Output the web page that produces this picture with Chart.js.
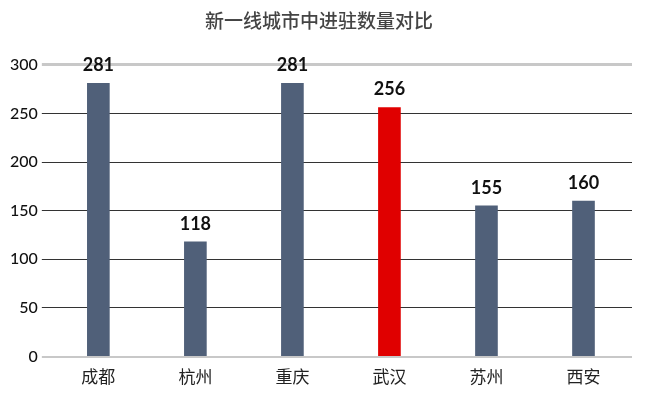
<!DOCTYPE html>
<html>
<head>
<meta charset="utf-8">
<script src="https://cdn.jsdelivr.net/npm/chart.js@4"></script>
<style>
  html, body { margin: 0; padding: 0; background: #fff; }
  #wrap { width: 650px; height: 401px; }
</style>
</head>
<body>
<div id="wrap"><canvas id="chart"></canvas></div>
<script>
const cities = ['成都', '杭州', '重庆', '武汉', '苏州', '西安']
const counts = [281, 118, 281, 256, 155, 160]
const barColors = ['#506079', '#506079', '#506079', '#e00000', '#506079', '#506079']

const font = '"Noto Sans CJK SC", "Noto Sans", sans-serif'
const numFont = 'Lato, "Noto Sans", sans-serif'

// labels above bars
const valueLabels = {
    id: 'valueLabels',
    afterDatasetsDraw(chart) {
        const ctx = chart.ctx
        const meta = chart.getDatasetMeta(0)
        ctx.save()
        ctx.font = 'bold 18px ' + numFont
        ctx.fillStyle = '#111'
        ctx.textAlign = 'center'
        ctx.textBaseline = 'bottom'
        meta.data.forEach((bar, i) => {
            ctx.fillText(counts[i], bar.x, bar.y - 9)
        })
        ctx.restore()
    }
}

new Chart(document.getElementById('chart'), {
    type: 'bar',
    data: {
        labels: cities,
        datasets: [{
            data: counts,
            backgroundColor: barColors,
            barThickness: 22
        }]
    },
    plugins: [valueLabels],
    options: {
        responsive: true,
        maintainAspectRatio: false,
        animation: false,
        layout: { padding: { left: 6, right: 18, bottom: 12 } },
        scales: {
            x: {
                grid: { display: false },
                border: { display: false },
                ticks: { color: '#222', font: { family: font, size: 17 }, padding: 2 }
            },
            y: {
                min: 0,
                max: 300,
                border: { display: false },
                grid: {
                    tickLength: 8,
                    color: c => (c.tick && (c.tick.value === 300 || c.tick.value === 0)) ? '#c8c8c8' : '#333',
                    lineWidth: c => (c.tick && c.tick.value === 300) ? 3 : (c.tick && c.tick.value === 0 ? 2 : 1)
                },
                ticks: { stepSize: 50, color: '#111', padding: 4, font: { family: numFont, size: 16, weight: '500' } }
            }
        },
        plugins: {
            legend: { display: false },
            tooltip: { enabled: false },
            title: {
                display: true,
                text: '新一线城市中进驻数量对比',
                color: '#444',
                font: { family: font, size: 19, weight: '500' },
                padding: { top: 9, bottom: 33 }
            }
        }
    }
})
</script>
</body>
</html>
